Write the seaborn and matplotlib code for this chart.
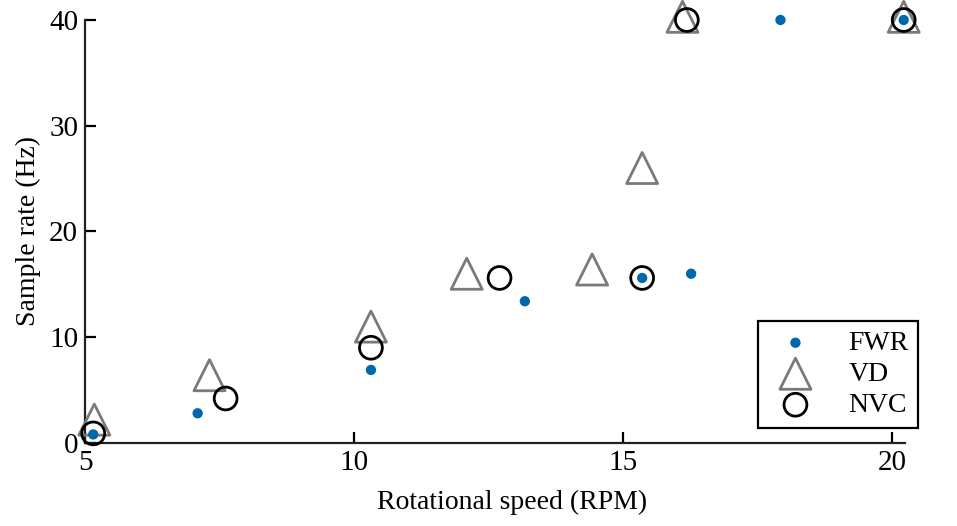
import matplotlib
matplotlib.use("Agg")
import matplotlib.pyplot as plt
import seaborn as sns
import pandas as pd

# ---- data ----
fwr_x = [5.15, 7.09, 10.31, 13.17, 15.35, 16.26, 17.92, 20.21]
fwr_y = [0.8, 2.8, 6.9, 13.4, 15.6, 16.0, 40.0, 40.0]

vd_x = [5.17, 7.31, 10.31, 12.09, 14.42, 15.35, 16.10, 20.21]
vd_y = [2.2, 6.4, 11.0, 16.0, 16.4, 26.0, 40.3, 40.3]

nvc_x = [5.15, 7.61, 10.31, 12.70, 15.35, 16.18, 20.21]
nvc_y = [0.9, 4.2, 9.0, 15.6, 15.6, 40.0, 40.0]

x_ticks = [5, 10, 15, 20]
y_ticks = [0, 10, 20, 30, 40]

sns.set_style("ticks")
plt.rcParams["font.family"] = ["Liberation Serif", "DejaVu Serif"]
plt.rcParams["text.color"] = "black"
plt.rcParams["axes.labelcolor"] = "black"

fig = plt.figure(figsize=(9.57, 5.26), dpi=100)
ax = fig.add_axes([0.089, 0.158, 0.857, 0.804])

df_vd = pd.DataFrame({"x": vd_x, "y": vd_y})
df_nvc = pd.DataFrame({"x": nvc_x, "y": nvc_y})
df_fwr = pd.DataFrame({"x": fwr_x, "y": fwr_y})

sns.scatterplot(data=df_vd, x="x", y="y", marker="^", s=500,
                facecolor="none", edgecolor="#7a7a7a", linewidth=2.0,
                ax=ax, label="VD", clip_on=False, zorder=3)
sns.scatterplot(data=df_nvc, x="x", y="y", marker="o", s=270,
                facecolor="none", edgecolor="black", linewidth=2.0,
                ax=ax, label="NVC", clip_on=False, zorder=4)
sns.scatterplot(data=df_fwr, x="x", y="y", marker="o", s=55,
                color="#0066ad", edgecolor="none", linewidth=0,
                ax=ax, label="FWR", clip_on=False, zorder=5)

ax.set_xlim(5, 20.24)
ax.set_ylim(0, 40)
ax.set_xticks(x_ticks)
ax.set_yticks(y_ticks)
ax.tick_params(direction="in", length=8, width=1.6, labelsize=21,
               colors="black", pad=5)
sns.despine(ax=ax)
for sp in ["left", "bottom"]:
    ax.spines[sp].set_linewidth(1.6)
    ax.spines[sp].set_color("#222222")

ax.set_xlabel("Rotational speed (RPM)", fontsize=20, color="black")
ax.xaxis.set_label_coords(0.52, -0.112)
ax.set_ylabel("Sample rate (Hz)", fontsize=20, labelpad=6, color="black")

handles, labels = ax.get_legend_handles_labels()
order = [labels.index(l) for l in ["FWR", "VD", "NVC"]]
leg = ax.legend([handles[i] for i in order], [labels[i] for i in order],
                loc="upper left", bbox_to_anchor=(0.792, 0.39),
                bbox_transform=fig.transFigure, borderaxespad=0,
                fontsize=20, frameon=True, fancybox=False,
                handletextpad=0.9, borderpad=0.35, labelspacing=0.2,
                handlelength=2.0, labelcolor="black")
leg.get_frame().set_edgecolor("black")
leg.get_frame().set_linewidth(1.6)
leg.get_frame().set_alpha(1)

fig.savefig("out.png", dpi=100)
